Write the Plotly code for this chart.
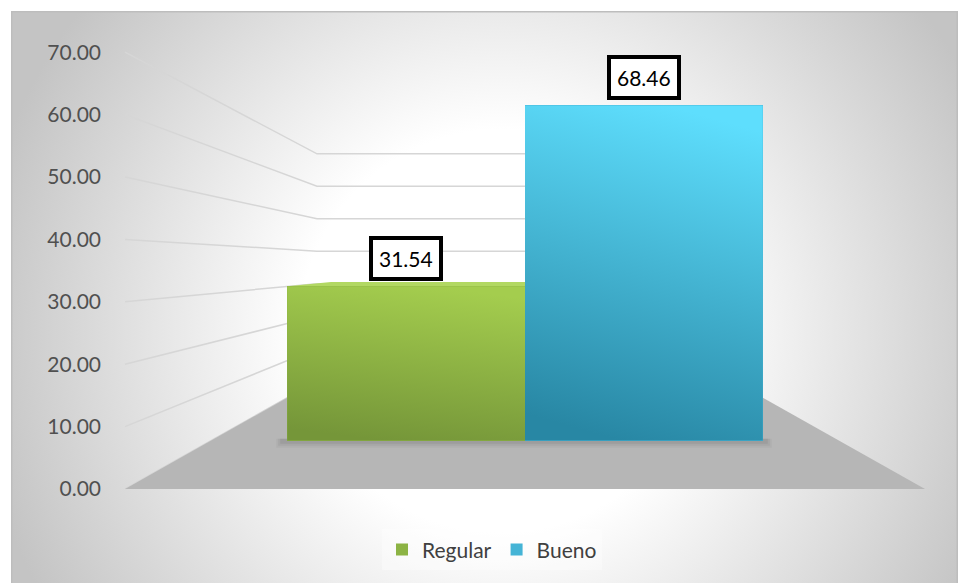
import base64
import plotly.graph_objects as go

# ---- data ----
series_names = ["Regular", "Bueno"]
series_values = [31.54, 68.46]
tick_values = [0, 10, 20, 30, 40, 50, 60, 70]
tick_text = ["0.00", "10.00", "20.00", "30.00", "40.00", "50.00", "60.00", "70.00"]

# ---- styling ----
bar_colors = ["#8cb344", "#45b4d6"]
bar_grad_top = ["#a4cd4e", "#5edefd"]
bar_grad_bottom = ["#759639", "#2887a4"]
top_face_colors = ["#b2d862", "#7ae4ff"]
FONT = "Lato"

W, H = 960, 583

# ---- simple perspective model (pixel space) ----
FRONT_LEFT, FRONT_RIGHT = 125.0, 925.0     # floor front edge
FRONT_ZERO = 489.0                          # y pixel of value 0 on the front plane
FRONT_SCALE = 6.24                          # pixels per unit on the front plane
VP_X, VP_Y = 525.0, 264.0                   # vanishing point
K_WALL = 0.52                               # depth factor of the back wall
K_BAR_FRONT = 0.785                         # depth factor of the bar front faces
K_BAR_BACK = 0.64                           # depth factor of the bar back faces
BAR_HALF_FRONT = 303.0                      # half width of the bar group on the front plane


def project(xf, v, k):
    """Project a point (front-plane x, value, depth factor) to pixels."""
    yf = FRONT_ZERO - FRONT_SCALE * v
    return VP_X + (xf - VP_X) * k, VP_Y + (yf - VP_Y) * k


def to_axis(ypx):
    """Pixel y -> units of the value axis drawn on the front plane."""
    return (FRONT_ZERO - ypx) / FRONT_SCALE


def svg_uri(svg):
    return "data:image/svg+xml;base64," + base64.b64encode(svg.encode()).decode()


fig = go.Figure()

# ---- walls: gridlines (left side wall + back wall) ----
gx, gy = [], []
for v in tick_values:
    for xf, k in [(FRONT_LEFT, 1.0), (FRONT_LEFT, K_WALL), (FRONT_RIGHT, K_WALL)]:
        px, py = project(xf, v, k)
        gx.append(px)
        gy.append(to_axis(py))
    gx.append(None)
    gy.append(None)
fig.add_trace(go.Scatter(x=gx, y=gy, mode="lines", line=dict(color="#d6d6d6", width=1.5),
                         hoverinfo="skip", showlegend=False))

# ---- floor ----
floor_pts = [project(FRONT_LEFT, 0, 1.0), project(FRONT_RIGHT, 0, 1.0),
             project(FRONT_RIGHT, 0, K_WALL), project(FRONT_LEFT, 0, K_WALL)]
fig.add_trace(go.Scatter(x=[p[0] for p in floor_pts] + [floor_pts[0][0]],
                         y=[to_axis(p[1]) for p in floor_pts] + [to_axis(floor_pts[0][1])],
                         mode="lines", fill="toself", fillcolor="#b6b6b6",
                         line=dict(width=0, color="#b6b6b6"), hoverinfo="skip", showlegend=False))

# ---- soft shadow under the bars ----
bx0, bzero = project(VP_X - BAR_HALF_FRONT, 0, K_BAR_FRONT)
bx1, _ = project(VP_X + BAR_HALF_FRONT, 0, K_BAR_FRONT)
for grow, alpha in [(7, 0.035), (5, 0.045), (3, 0.06)]:
    sx = [bx0 - grow - 4, bx1 + grow + 2, bx1 + grow + 2, bx0 - grow - 4, bx0 - grow - 4]
    sy = [bzero - 2, bzero - 2, bzero + grow, bzero + grow, bzero - 2]
    fig.add_trace(go.Scatter(x=sx, y=[to_axis(s) for s in sy], mode="lines", fill="toself",
                             fillcolor=f"rgba(0,0,0,{alpha})", line=dict(width=0),
                             hoverinfo="skip", showlegend=False))

# ---- bar top faces (only where they face the viewer) ----
n = len(series_values)
for i, v in enumerate(series_values):
    xl = VP_X - BAR_HALF_FRONT + 2 * BAR_HALF_FRONT * i / n
    xr = VP_X - BAR_HALF_FRONT + 2 * BAR_HALF_FRONT * (i + 1) / n
    fl, fr = project(xl, v, K_BAR_FRONT), project(xr, v, K_BAR_FRONT)
    bl, br = project(xl, v, K_BAR_BACK), project(xr, v, K_BAR_BACK)
    if bl[1] < fl[1]:
        pts = [fl, fr, br, bl, fl]
        fig.add_trace(go.Scatter(x=[p[0] for p in pts], y=[to_axis(p[1]) for p in pts],
                                 mode="lines", fill="toself", fillcolor=top_face_colors[i],
                                 line=dict(width=0), hoverinfo="skip", showlegend=False))

# ---- bars (front faces) on their own value axis ----
for i, (name, v) in enumerate(zip(series_names, series_values)):
    fig.add_trace(go.Bar(x=[0], y=[v], name=name, xaxis="x2", yaxis="y2",
                         marker=dict(color=bar_colors[i], line=dict(width=0)),
                         hoverinfo="name+y"))

bar_px_per_unit = FRONT_SCALE * K_BAR_FRONT
bar_zero_px = project(VP_X, 0, K_BAR_FRONT)[1]
y2_range = [-(H - bar_zero_px) / bar_px_per_unit, bar_zero_px / bar_px_per_unit]
group_px = 2 * BAR_HALF_FRONT * K_BAR_FRONT
x2_range = [-0.5 - (VP_X - group_px / 2) / group_px, 0.5 + (W - VP_X - group_px / 2) / group_px]

images = []
# chart area background with radial shading
bg_svg = (
    "<svg xmlns='http://www.w3.org/2000/svg' width='947' height='580' viewBox='0 0 947 580' "
    "preserveAspectRatio='none'><defs><radialGradient id='g' gradientUnits='userSpaceOnUse' "
    "cx='490' cy='320' r='530'><stop offset='0' stop-color='#ffffff'/>"
    "<stop offset='0.38' stop-color='#ffffff'/><stop offset='1' stop-color='#c4c4c4'/>"
    "</radialGradient></defs><rect x='0' y='0' width='947' height='580' fill='url(#g)' "
    "stroke='#bdbdbd' stroke-width='3'/></svg>"
)
images.append(dict(source=svg_uri(bg_svg), xref="paper", yref="paper", x=11 / W, y=1 - 11 / H,
                   sizex=947 / W, sizey=580 / H, xanchor="left", yanchor="top",
                   sizing="stretch", layer="below"))

# vertical shading of each bar face, plus value labels
annotations = []
for i, v in enumerate(series_values):
    left = -0.5 + i / n
    grad = (
        "<svg xmlns='http://www.w3.org/2000/svg' width='100' height='100' viewBox='0 0 100 100' "
        "preserveAspectRatio='none'><defs><linearGradient id='b' x1='0.6' y1='0' x2='0.4' y2='1'>"
        f"<stop offset='0' stop-color='{bar_grad_top[i]}'/>"
        f"<stop offset='1' stop-color='{bar_grad_bottom[i]}'/></linearGradient></defs>"
        "<rect width='100' height='100' fill='url(#b)'/></svg>"
    )
    images.append(dict(source=svg_uri(grad), xref="x2", yref="y2", x=left, y=v,
                       sizex=1 / n, sizey=v, xanchor="left", yanchor="top",
                       sizing="stretch", layer="above"))
    annotations.append(dict(x=left + 0.5 / n, y=v, xref="x2", yref="y2", text=f"{v:.2f}",
                            showarrow=False, yanchor="bottom", yshift=5,
                            font=dict(family=FONT, size=21, color="#000000"),
                            bgcolor="#ffffff", bordercolor="#000000", borderwidth=4, borderpad=6))

fig.update_layout(
    width=W, height=H,
    margin=dict(l=0, r=0, t=0, b=0),
    paper_bgcolor="#ffffff",
    plot_bgcolor="rgba(0,0,0,0)",
    barmode="group", bargap=0, bargroupgap=0,
    font=dict(family=FONT, color="#595959"),
    images=images,
    annotations=annotations,
    xaxis=dict(domain=[0, 1], range=[0, W], visible=False, fixedrange=True),
    yaxis=dict(domain=[0, 1], range=[to_axis(H), to_axis(0)], anchor="free", position=101 / W,
               tickvals=tick_values, ticktext=tick_text, ticks="", showgrid=False,
               zeroline=False, showline=False, tickfont=dict(family=FONT, size=21, color="#505050"),
               automargin=False, fixedrange=True),
    xaxis2=dict(overlaying="x", range=x2_range, visible=False, fixedrange=True),
    yaxis2=dict(overlaying="y", range=y2_range, visible=False, fixedrange=True),
    legend=dict(orientation="h", x=0.5125, xanchor="center", y=0.057, yanchor="middle",
                bgcolor="rgba(255,255,255,0.35)", font=dict(family=FONT, size=21, color="#404040"),
                itemclick=False, itemdoubleclick=False),
    showlegend=True,
)

fig.write_html("out.html")
